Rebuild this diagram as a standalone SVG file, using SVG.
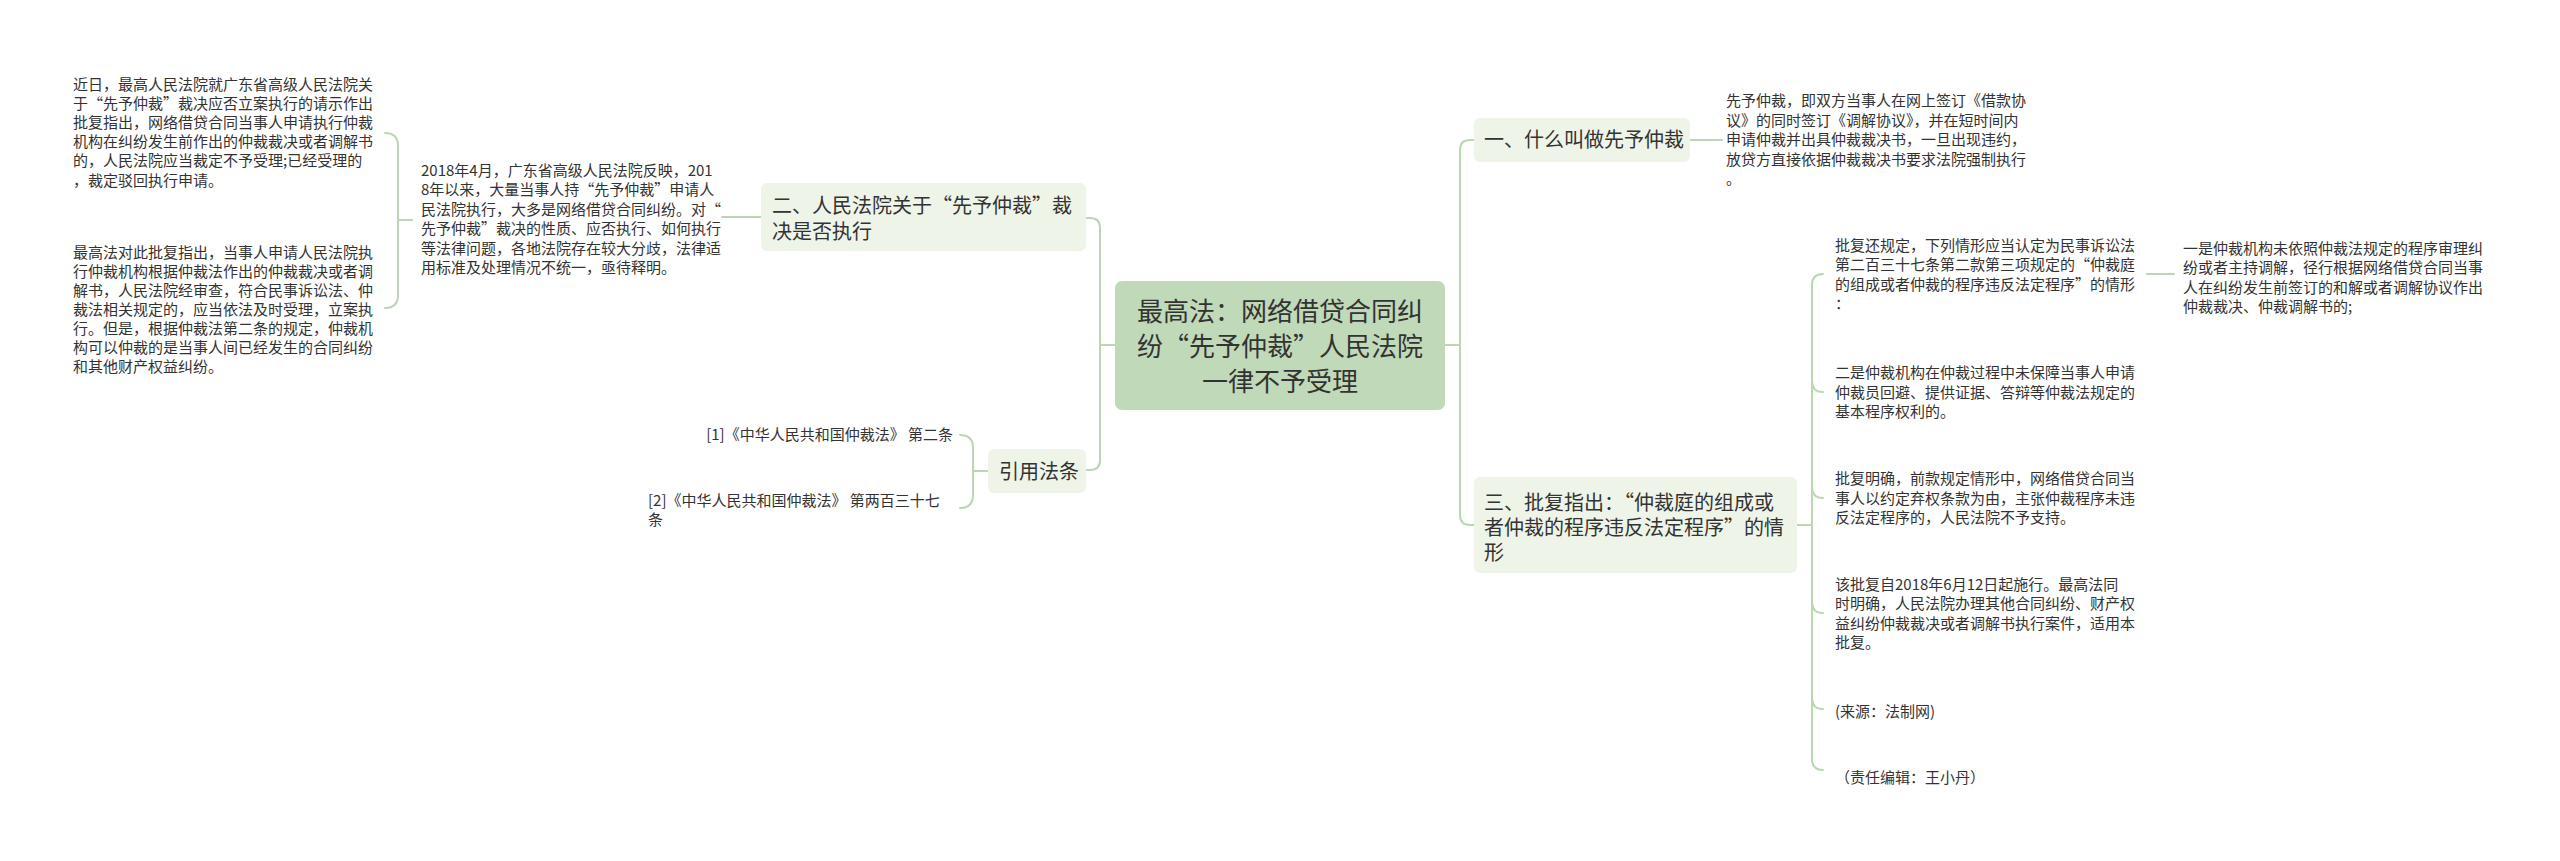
<svg xmlns="http://www.w3.org/2000/svg" width="2560" height="861" viewBox="0 0 2560 861">
<style>
text{font-family:"Noto Sans CJK SC","Noto Sans",sans-serif;fill:#333333}
.d{font-size:15px}
.n{font-size:20px}
.c{font-size:26px}
.l1{fill:#eef4e7}
.ln{fill:none;stroke:#bcd5b3;stroke-width:2;stroke-linecap:round}
</style>
<rect width="2560" height="861" fill="#ffffff"/>
<g id="connectors">
<path class="ln" d="M1115,345 H1100 M1086,218 H1090 Q1100,218 1100,228 V460 Q1100,470 1090,470 H1086"/>
<path class="ln" d="M1445,345 H1460 M1474,140 H1470 Q1460,140 1460,150 V515 Q1460,525 1470,525 H1474"/>
<path class="ln" d="M761,217 H722"/>
<path class="ln" d="M412,220 H398 M385,133 Q398,133 398,146 V295 Q398,308 385,308"/>
<path class="ln" d="M988,471 H973 M960,435 Q973,435 973,448 V495 Q973,508 960,508"/>
<path class="ln" d="M1690,140 H1722"/>
<path class="ln" d="M1797,525 H1812 M1823,274 Q1812,274 1812,285 V759 Q1812,770 1823,770 M1812,381 Q1812,392 1823,392 M1812,487 Q1812,498 1823,498 M1812,602 Q1812,613 1823,613 M1812,698 Q1812,709 1823,709"/>
<path class="ln" d="M2147,274 H2174"/>
</g>
<g id="center">
<rect x="1115" y="281" width="330" height="129" rx="7" fill="#c0d9b8"/>
<text class="c" x="1280" y="321" text-anchor="middle">最高法：网络借贷合同纠</text>
<text class="c" x="1280" y="356" text-anchor="middle">纷“先予仲裁”人民法院</text>
<text class="c" x="1280" y="391" text-anchor="middle">一律不予受理</text>
</g>
<g id="node-er">
<rect class="l1" x="761" y="183" width="325" height="68" rx="6"/>
<text class="n" x="772" y="213">二、人民法院关于“先予仲裁”裁</text>
<text class="n" x="772" y="239">决是否执行</text>
</g>
<g id="node-er-detail">
<text class="d" x="421" y="175.5">2018年4月，广东省高级人民法院反映，201</text>
<text class="d" x="421" y="195">8年以来，大量当事人持“先予仲裁”申请人</text>
<text class="d" x="421" y="214.5">民法院执行，大多是网络借贷合同纠纷。对“</text>
<text class="d" x="421" y="234">先予仲裁”裁决的性质、应否执行、如何执行</text>
<text class="d" x="421" y="253.5">等法律问题，各地法院存在较大分歧，法律适</text>
<text class="d" x="421" y="273">用标准及处理情况不统一，亟待释明。</text>
</g>
<g id="node-left-1">
<text class="d" x="73" y="89.5">近日，最高人民法院就广东省高级人民法院关</text>
<text class="d" x="73" y="108.7">于“先予仲裁”裁决应否立案执行的请示作出</text>
<text class="d" x="73" y="127.9">批复指出，网络借贷合同当事人申请执行仲裁</text>
<text class="d" x="73" y="147.1">机构在纠纷发生前作出的仲裁裁决或者调解书</text>
<text class="d" x="73" y="166.3">的，人民法院应当裁定不予受理;已经受理的</text>
<text class="d" x="73" y="185.5">，裁定驳回执行申请。</text>
</g>
<g id="node-left-2">
<text class="d" x="73" y="257.5">最高法对此批复指出，当事人申请人民法院执</text>
<text class="d" x="73" y="276.5">行仲裁机构根据仲裁法作出的仲裁裁决或者调</text>
<text class="d" x="73" y="295.5">解书，人民法院经审查，符合民事诉讼法、仲</text>
<text class="d" x="73" y="314.5">裁法相关规定的，应当依法及时受理，立案执</text>
<text class="d" x="73" y="333.5">行。但是，根据仲裁法第二条的规定，仲裁机</text>
<text class="d" x="73" y="352.5">构可以仲裁的是当事人间已经发生的合同纠纷</text>
<text class="d" x="73" y="371.5">和其他财产权益纠纷。</text>
</g>
<g id="node-yinyong">
<rect class="l1" x="988" y="449" width="98" height="44" rx="6"/>
<text class="n" x="999" y="479">引用法条</text>
</g>
<g id="node-law-1">
<text class="d" x="953" y="440" text-anchor="end">[1]《中华人民共和国仲裁法》 第二条</text>
</g>
<g id="node-law-2">
<text class="d" x="648" y="505.5">[2]《中华人民共和国仲裁法》 第两百三十七</text>
<text class="d" x="648" y="525">条</text>
</g>
<g id="node-yi">
<rect class="l1" x="1474" y="118" width="216" height="44" rx="6"/>
<text class="n" x="1484" y="147">一、什么叫做先予仲裁</text>
</g>
<g id="node-yi-detail">
<text class="d" x="1726" y="106">先予仲裁，即双方当事人在网上签订《借款协</text>
<text class="d" x="1726" y="125.5">议》的同时签订《调解协议》，并在短时间内</text>
<text class="d" x="1726" y="145">申请仲裁并出具仲裁裁决书，一旦出现违约，</text>
<text class="d" x="1726" y="164.5">放贷方直接依据仲裁裁决书要求法院强制执行</text>
<text class="d" x="1726" y="184">。</text>
</g>
<g id="node-san">
<rect class="l1" x="1474" y="477" width="323" height="96" rx="6"/>
<text class="n" x="1484" y="510">三、批复指出：“仲裁庭的组成或</text>
<text class="n" x="1484" y="535">者仲裁的程序违反法定程序”的情</text>
<text class="n" x="1484" y="560">形</text>
</g>
<g id="node-san-1">
<text class="d" x="1835" y="250.5">批复还规定，下列情形应当认定为民事诉讼法</text>
<text class="d" x="1835" y="270">第二百三十七条第二款第三项规定的“仲裁庭</text>
<text class="d" x="1835" y="289.5">的组成或者仲裁的程序违反法定程序”的情形</text>
<text class="d" x="1835" y="309">：</text>
</g>
<g id="node-san-1-1">
<text class="d" x="2183" y="253.5">一是仲裁机构未依照仲裁法规定的程序审理纠</text>
<text class="d" x="2183" y="273">纷或者主持调解，径行根据网络借贷合同当事</text>
<text class="d" x="2183" y="292.5">人在纠纷发生前签订的和解或者调解协议作出</text>
<text class="d" x="2183" y="312">仲裁裁决、仲裁调解书的;</text>
</g>
<g id="node-san-2">
<text class="d" x="1835" y="378">二是仲裁机构在仲裁过程中未保障当事人申请</text>
<text class="d" x="1835" y="397.5">仲裁员回避、提供证据、答辩等仲裁法规定的</text>
<text class="d" x="1835" y="417">基本程序权利的。</text>
</g>
<g id="node-san-3">
<text class="d" x="1835" y="484">批复明确，前款规定情形中，网络借贷合同当</text>
<text class="d" x="1835" y="503.5">事人以约定弃权条款为由，主张仲裁程序未违</text>
<text class="d" x="1835" y="523">反法定程序的，人民法院不予支持。</text>
</g>
<g id="node-san-4">
<text class="d" x="1835" y="589.5">该批复自2018年6月12日起施行。最高法同</text>
<text class="d" x="1835" y="609">时明确，人民法院办理其他合同纠纷、财产权</text>
<text class="d" x="1835" y="628.5">益纠纷仲裁裁决或者调解书执行案件，适用本</text>
<text class="d" x="1835" y="648">批复。</text>
</g>
<g id="node-san-5">
<text class="d" x="1835" y="716.5">(来源：法制网)</text>
</g>
<g id="node-san-6">
<text class="d" x="1835" y="782.5">（责任编辑：王小丹）</text>
</g>
</svg>
